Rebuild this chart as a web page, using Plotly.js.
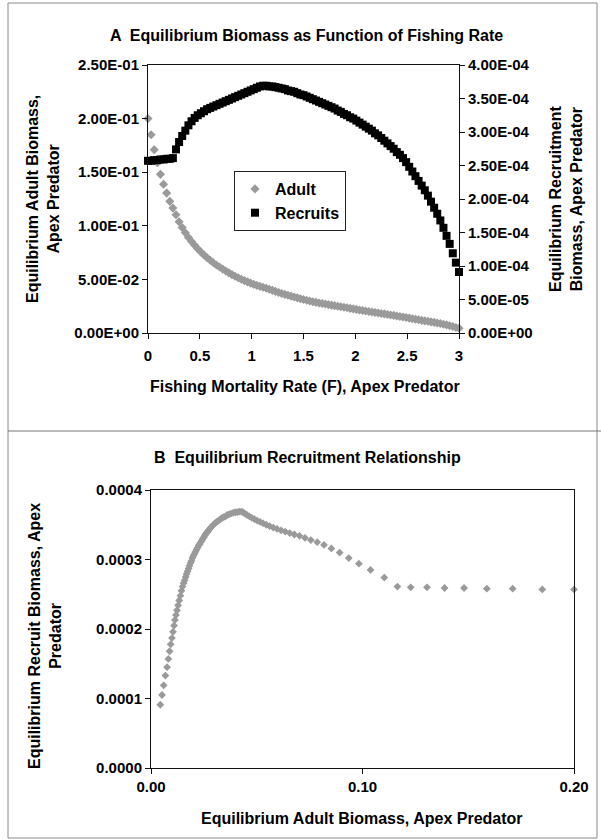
<!DOCTYPE html>
<html>
<head>
<meta charset="utf-8">
<script src="https://cdn.plot.ly/plotly-3.0.1.min.js"></script>
<style>
html,body{margin:0;padding:0;background:#fff;}
#chart{width:601px;height:840px;}
</style>
</head>
<body>
<div id="chart"></div>
<script>
// Fishing mortality rate F (apex predator)
const fishingRate = [0.00,0.03,0.06,0.09,0.12,0.15,0.18,0.21,0.24,0.27,
  0.30,0.33,0.36,0.39,0.42,0.45,0.48,0.51,0.54,0.57,
  0.60,0.63,0.66,0.69,0.72,0.75,0.78,0.81,0.84,0.87,
  0.90,0.93,0.96,0.99,1.02,1.05,1.08,1.11,1.14,1.17,
  1.20,1.23,1.26,1.29,1.32,1.35,1.38,1.41,1.44,1.47,
  1.50,1.53,1.56,1.59,1.62,1.65,1.68,1.71,1.74,1.77,
  1.80,1.83,1.86,1.89,1.92,1.95,1.98,2.01,2.04,2.07,
  2.10,2.13,2.16,2.19,2.22,2.25,2.28,2.31,2.34,2.37,
  2.40,2.43,2.46,2.49,2.52,2.55,2.58,2.61,2.64,2.67,
  2.70,2.73,2.76,2.79,2.82,2.85,2.88,2.91,2.94,2.97,3.00];

// Equilibrium adult biomass
const adultBiomass = [0.2000,0.1850,0.1710,0.1588,0.1480,0.1388,0.1305,0.1228,0.1165,0.1103,
  0.1038,0.0983,0.0935,0.0892,0.0853,0.0818,0.0786,0.0756,0.0728,0.0702,
  0.0678,0.0656,0.0635,0.0615,0.0596,0.0578,0.0561,0.0545,0.0530,0.0516,
  0.0502,0.0489,0.0477,0.0465,0.0454,0.0444,0.0435,0.0427,0.0418,0.0408,
  0.0398,0.0388,0.0378,0.0369,0.0360,0.0352,0.0344,0.0336,0.0328,0.0320,
  0.0313,0.0306,0.0299,0.0292,0.0286,0.0280,0.0275,0.0270,0.0265,0.0260,
  0.0255,0.0250,0.0245,0.0240,0.0235,0.0230,0.0225,0.0220,0.0215,0.0210,
  0.0205,0.0200,0.0196,0.0191,0.0187,0.0182,0.0178,0.0173,0.0168,0.0164,
  0.0159,0.0154,0.0149,0.0144,0.0139,0.0133,0.0128,0.0123,0.0118,0.0113,
  0.0109,0.0104,0.0099,0.0093,0.0088,0.0082,0.0076,0.0068,0.0060,0.0052,0.0044];

// Equilibrium recruit biomass
const recruitBiomass = [2.57e-4,2.57e-4,2.58e-4,2.58e-4,2.59e-4,2.59e-4,2.60e-4,2.60e-4,2.61e-4,2.74e-4,
  2.85e-4,2.94e-4,3.02e-4,3.10e-4,3.16e-4,3.21e-4,3.25e-4,3.28e-4,3.31e-4,3.34e-4,
  3.36e-4,3.38e-4,3.40e-4,3.42e-4,3.44e-4,3.46e-4,3.48e-4,3.50e-4,3.52e-4,3.54e-4,
  3.56e-4,3.58e-4,3.60e-4,3.62e-4,3.64e-4,3.66e-4,3.68e-4,3.69e-4,3.69e-4,3.68e-4,
  3.68e-4,3.67e-4,3.66e-4,3.65e-4,3.64e-4,3.62e-4,3.61e-4,3.60e-4,3.58e-4,3.56e-4,
  3.55e-4,3.53e-4,3.51e-4,3.49e-4,3.47e-4,3.45e-4,3.43e-4,3.41e-4,3.39e-4,3.37e-4,
  3.35e-4,3.32e-4,3.30e-4,3.27e-4,3.25e-4,3.22e-4,3.20e-4,3.17e-4,3.14e-4,3.11e-4,
  3.08e-4,3.05e-4,3.02e-4,2.98e-4,2.95e-4,2.91e-4,2.87e-4,2.83e-4,2.79e-4,2.75e-4,
  2.70e-4,2.66e-4,2.61e-4,2.55e-4,2.48e-4,2.41e-4,2.34e-4,2.27e-4,2.20e-4,2.13e-4,
  2.05e-4,1.96e-4,1.87e-4,1.78e-4,1.68e-4,1.57e-4,1.45e-4,1.33e-4,1.19e-4,1.05e-4,0.91e-4];

// Tick values / labels
const fTicks = [0, 0.5, 1, 1.5, 2, 2.5, 3];
const fTickText = ['0', '0.5', '1', '1.5', '2', '2.5', '3'];
const adultTicks = [0, 0.05, 0.10, 0.15, 0.20, 0.25];
const adultTickText = ['0.00E+00', '5.00E-02', '1.00E-01', '1.50E-01', '2.00E-01', '2.50E-01'];
const recTicks = [0, 5e-5, 1e-4, 1.5e-4, 2e-4, 2.5e-4, 3e-4, 3.5e-4, 4e-4];
const recTickText = ['0.00E+00', '5.00E-05', '1.00E-04', '1.50E-04', '2.00E-04', '2.50E-04', '3.00E-04', '3.50E-04', '4.00E-04'];
const bXTicks = [0, 0.10, 0.20];
const bXTickText = ['0.00', '0.10', '0.20'];
const bYTicks = [0, 1e-4, 2e-4, 3e-4, 4e-4];
const bYTickText = ['0.0000', '0.0001', '0.0002', '0.0003', '0.0004'];

const W = 601, H = 840;
const px = v => v / W;
const py = v => 1 - v / H;

const FONT = 'Liberation Sans, Arial, Helvetica, sans-serif';
const tickFont = {family: FONT, size: 15, color: '#000', weight: 'bold'};
const titleFont = {family: FONT, size: 16, color: '#000', weight: 'bold'};
const GRAY = '#9a9a9a';

const traces = [
  {x: fishingRate, y: adultBiomass, type: 'scatter', mode: 'markers', name: 'Adult',
   xaxis: 'x', yaxis: 'y', cliponaxis: false,
   marker: {symbol: 'diamond', size: 7, color: GRAY}},
  {x: fishingRate, y: recruitBiomass, type: 'scatter', mode: 'markers', name: 'Recruits',
   xaxis: 'x', yaxis: 'y2', cliponaxis: false,
   marker: {symbol: 'square', size: 8, color: '#000'}},
  {x: adultBiomass, y: recruitBiomass, type: 'scatter', mode: 'markers', name: 'Recruitment',
   xaxis: 'x2', yaxis: 'y3', cliponaxis: false, showlegend: false,
   marker: {symbol: 'diamond', size: 6, color: GRAY}}
];

const axisCommon = {
  showgrid: false, zeroline: false, showline: true, linecolor: '#111', linewidth: 1,
  ticks: 'outside', ticklen: 5, tickcolor: '#111', tickfont: tickFont, fixedrange: true
};

const layout = {
  width: W, height: H,
  margin: {l: 0, r: 0, t: 0, b: 0},
  paper_bgcolor: '#fff', plot_bgcolor: '#fff',
  showlegend: true,
  legend: {
    x: px(234), y: py(171), xanchor: 'left', yanchor: 'top',
    bgcolor: '#fff', bordercolor: '#222', borderwidth: 1,
    font: {family: FONT, size: 16, color: '#000', weight: 'bold'},
    itemwidth: 30, tracegroupgap: 0
  },
  xaxis: Object.assign({}, axisCommon, {
    domain: [px(148), px(459)], range: [0, 3], anchor: 'y',
    tickvals: fTicks, ticktext: fTickText, mirror: true, ticklabelstandoff: 4
  }),
  yaxis: Object.assign({}, axisCommon, {
    domain: [py(333), py(65)], range: [0, 0.25], anchor: 'x',
    tickvals: adultTicks, ticktext: adultTickText
  }),
  yaxis2: Object.assign({}, axisCommon, {
    domain: [py(333), py(65)], range: [0, 4e-4], anchor: 'x', overlaying: 'y', side: 'right',
    tickvals: recTicks, ticktext: recTickText
  }),
  xaxis2: Object.assign({}, axisCommon, {
    domain: [px(151), px(574)], range: [0, 0.2], anchor: 'y3',
    tickvals: bXTicks, ticktext: bXTickText, mirror: true
  }),
  yaxis3: Object.assign({}, axisCommon, {
    domain: [py(768), py(490)], range: [0, 4e-4], anchor: 'x2',
    tickvals: bYTicks, ticktext: bYTickText, mirror: true
  }),
  shapes: [
    {type: 'rect', xref: 'paper', yref: 'paper', x0: px(8), x1: px(597), y0: py(838), y1: py(3),
     line: {color: '#888', width: 1}},
    {type: 'line', xref: 'paper', yref: 'paper', x0: px(8), x1: px(601), y0: py(431), y1: py(431),
     line: {color: '#777', width: 1}}
  ],
  annotations: [
    {text: 'A  Equilibrium Biomass as Function of Fishing Rate', xref: 'paper', yref: 'paper',
     x: px(306), y: py(36), showarrow: false, xanchor: 'center', yanchor: 'middle', font: titleFont},
    {text: 'Equilibrium Adult Biomass,<br>Apex Predator', xref: 'paper', yref: 'paper',
     x: px(43), y: py(199), textangle: -90, showarrow: false, xanchor: 'center', yanchor: 'middle', font: titleFont},
    {text: 'Equilibrium Recruitment<br>Biomass, Apex Predator', xref: 'paper', yref: 'paper',
     x: px(566), y: py(199), textangle: -90, showarrow: false, xanchor: 'center', yanchor: 'middle', font: titleFont},
    {text: 'Fishing Mortality Rate (F), Apex Predator', xref: 'paper', yref: 'paper',
     x: px(305), y: py(387), showarrow: false, xanchor: 'center', yanchor: 'middle', font: titleFont},
    {text: 'B  Equilibrium Recruitment Relationship', xref: 'paper', yref: 'paper',
     x: px(307), y: py(458), showarrow: false, xanchor: 'center', yanchor: 'middle', font: titleFont},
    {text: 'Equilibrium Recruit Biomass, Apex<br>Predator', xref: 'paper', yref: 'paper',
     x: px(45), y: py(636), textangle: -90, showarrow: false, xanchor: 'center', yanchor: 'middle', font: titleFont},
    {text: 'Equilibrium Adult Biomass, Apex Predator', xref: 'paper', yref: 'paper',
     x: px(362), y: py(818), showarrow: false, xanchor: 'center', yanchor: 'middle', font: titleFont}
  ]
};

Plotly.newPlot('chart', traces, layout, {displayModeBar: false, staticPlot: true});
</script>
</body>
</html>
